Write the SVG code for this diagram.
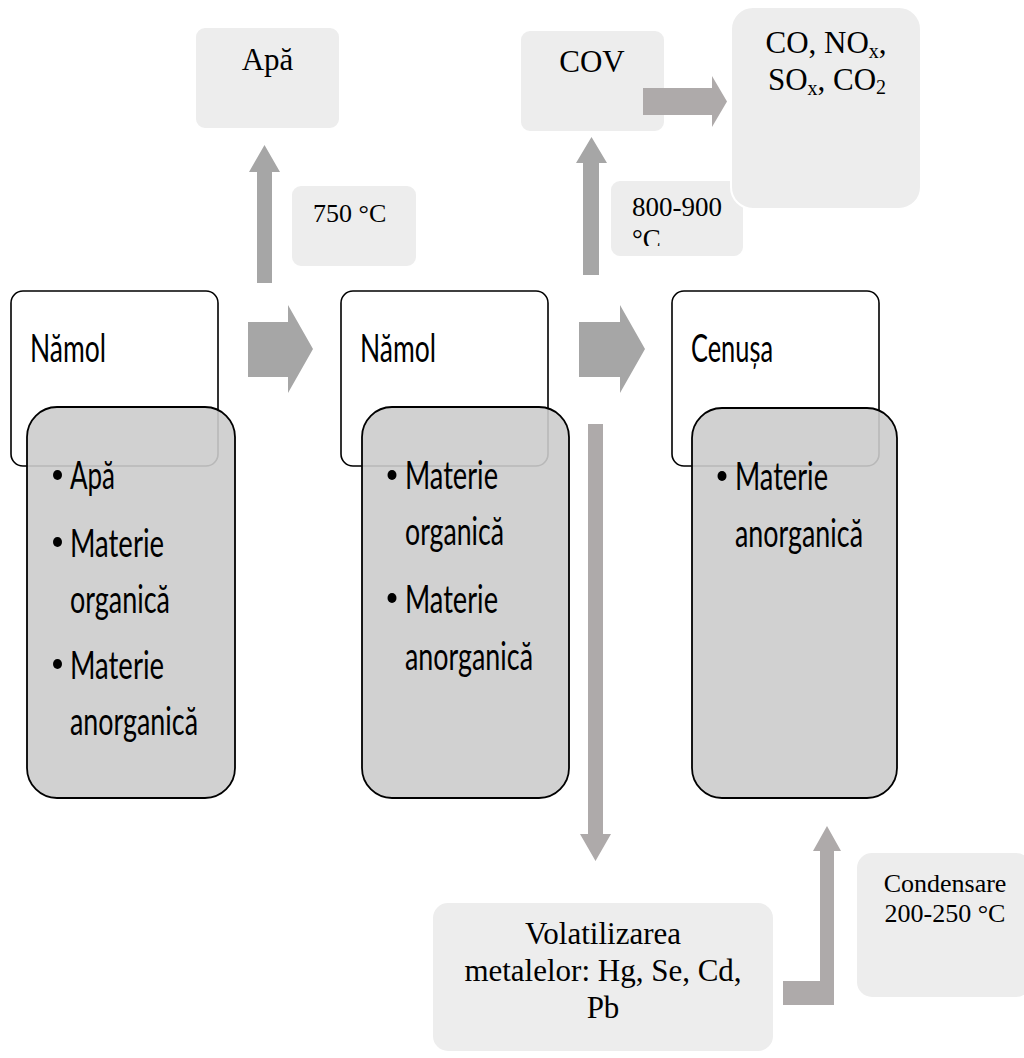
<svg xmlns="http://www.w3.org/2000/svg" width="1024" height="1058" viewBox="0 0 1024 1058">
<style>
.hdr{fill:#ffffff;stroke:#000000;stroke-width:1.6}
.body{fill:#cccccc;fill-opacity:0.9;stroke:#000000;stroke-width:1.8}
.lbox{fill:#ededed;stroke:#ffffff;stroke-width:2}
.cal{font-family:Lato,"Open Sans","DejaVu Sans",sans-serif;font-size:24px;fill:#000000}
.tnr{font-family:"Liberation Serif","Times New Roman",serif;fill:#000000}
.arr{fill:#a6a6a6}
.arr2{fill:#aeaaaa}
</style>
<defs>
<clipPath id="clip800"><rect x="610" y="180" width="134" height="66"/></clipPath>
</defs>

<g id="box-apa">
<rect class="lbox" x="195" y="27" width="145" height="102" rx="10"/>
<text class="tnr" x="267.5" y="70" font-size="31" text-anchor="middle">Apă</text>
</g>

<g id="box-750">
<rect class="lbox" x="291" y="185" width="126" height="82" rx="10"/>
<text class="tnr" x="313" y="222" font-size="26">750 °C</text>
</g>

<g id="box-cov">
<rect class="lbox" x="520" y="30" width="145" height="102" rx="10"/>
<text class="tnr" x="592" y="72" font-size="31" text-anchor="middle">COV</text>
</g>

<g id="box-800">
<rect class="lbox" x="610" y="180" width="134" height="77" rx="10"/>
<g clip-path="url(#clip800)">
<text class="tnr" x="632" y="216" font-size="27">800-900</text>
<text class="tnr" x="632" y="248" font-size="27">°C</text>
</g>
</g>

<g id="box-gases">
<rect class="lbox" x="731" y="7" width="190" height="202" rx="22"/>
<text class="tnr" x="826" y="53" font-size="31" text-anchor="middle">CO, NO<tspan font-size="20" dy="5">x</tspan><tspan dy="-5">,</tspan></text>
<text class="tnr" x="827" y="90" font-size="31" text-anchor="middle">SO<tspan font-size="20" dy="5">x</tspan><tspan dy="-5">, CO</tspan><tspan font-size="20" dy="4">2</tspan></text>
</g>

<g id="node-namol1">
<rect class="hdr" x="11" y="291" width="207" height="175" rx="12"/>
<text class="cal" transform="translate(30,362) scale(1,1.65)" textLength="76" lengthAdjust="spacingAndGlyphs">Nămol</text>
<rect class="body" x="27" y="407" width="208" height="391" rx="30"/>
<ellipse cx="57.5" cy="475" rx="4.5" ry="5"/>
<text class="cal" transform="translate(70,489) scale(1,1.65)" textLength="45" lengthAdjust="spacingAndGlyphs">Apă</text>
<ellipse cx="57.5" cy="542" rx="4.5" ry="5"/>
<text class="cal" transform="translate(70,557) scale(1,1.65)" textLength="94" lengthAdjust="spacingAndGlyphs">Materie</text>
<text class="cal" transform="translate(70,613) scale(1,1.65)" textLength="100" lengthAdjust="spacingAndGlyphs">organică</text>
<ellipse cx="57.5" cy="664" rx="4.5" ry="5"/>
<text class="cal" transform="translate(70,679) scale(1,1.65)" textLength="94" lengthAdjust="spacingAndGlyphs">Materie</text>
<text class="cal" transform="translate(70,735) scale(1,1.65)" textLength="128" lengthAdjust="spacingAndGlyphs">anorganică</text>
</g>

<g id="node-namol2">
<rect class="hdr" x="341" y="291" width="207" height="175" rx="12"/>
<text class="cal" transform="translate(360,362) scale(1,1.65)" textLength="76" lengthAdjust="spacingAndGlyphs">Nămol</text>
<rect class="body" x="362" y="407" width="207" height="391" rx="30"/>
<ellipse cx="392" cy="475" rx="4.5" ry="5"/>
<text class="cal" transform="translate(405,489) scale(1,1.65)" textLength="93" lengthAdjust="spacingAndGlyphs">Materie</text>
<text class="cal" transform="translate(405,545) scale(1,1.65)" textLength="99" lengthAdjust="spacingAndGlyphs">organică</text>
<ellipse cx="392" cy="598" rx="4.5" ry="5"/>
<text class="cal" transform="translate(405,613) scale(1,1.65)" textLength="93" lengthAdjust="spacingAndGlyphs">Materie</text>
<text class="cal" transform="translate(405,670) scale(1,1.65)" textLength="128" lengthAdjust="spacingAndGlyphs">anorganică</text>
</g>

<g id="node-cenusa">
<rect class="hdr" x="672" y="291" width="207" height="175" rx="12"/>
<text class="cal" transform="translate(691,362) scale(1,1.65)" textLength="82" lengthAdjust="spacingAndGlyphs">Cenușa</text>
<rect class="body" x="692" y="408" width="205" height="390" rx="30"/>
<ellipse cx="722" cy="476" rx="4.5" ry="5"/>
<text class="cal" transform="translate(735,490) scale(1,1.65)" textLength="93" lengthAdjust="spacingAndGlyphs">Materie</text>
<text class="cal" transform="translate(735,547) scale(1,1.65)" textLength="128" lengthAdjust="spacingAndGlyphs">anorganică</text>
</g>

<g id="box-volatilizare">
<rect class="lbox" x="432" y="902" width="342" height="150" rx="16"/>
<text class="tnr" x="603" y="944" font-size="31" text-anchor="middle">Volatilizarea</text>
<text class="tnr" x="603" y="981" font-size="31" text-anchor="middle">metalelor: Hg, Se, Cd,</text>
<text class="tnr" x="603" y="1018" font-size="31" text-anchor="middle">Pb</text>
</g>

<g id="box-condensare">
<rect class="lbox" x="856" y="852" width="176" height="146" rx="16"/>
<text class="tnr" x="945" y="892" font-size="26" text-anchor="middle">Condensare</text>
<text class="tnr" x="945" y="922" font-size="26" text-anchor="middle">200-250 °C</text>
</g>

<g id="connectors">
<path class="arr" d="M257,283 L257,172 L249,172 L264.5,145 L280,172 L272,172 L272,283 Z"/>
<path class="arr" d="M583,275 L583,163 L576,163 L591.5,137 L607,163 L599,163 L599,275 Z"/>
<path class="arr" d="M248,322 L288,322 L288,305 L313,349 L288,393 L288,377 L248,377 Z"/>
<path class="arr" d="M579,322 L620,322 L620,305 L645,349 L620,393 L620,377 L579,377 Z"/>
<path class="arr2" d="M643,88 L712,88 L712,76 L727,101.5 L712,127 L712,115 L643,115 Z"/>
<path class="arr2" d="M588,424 L603,424 L603,834 L611,834 L595.5,861 L580,834 L588,834 Z"/>
<path class="arr2" d="M783,981 L820,981 L820,851 L813,851 L827,826 L841,851 L834,851 L834,1005 L783,1005 Z"/>
</g>
</svg>
